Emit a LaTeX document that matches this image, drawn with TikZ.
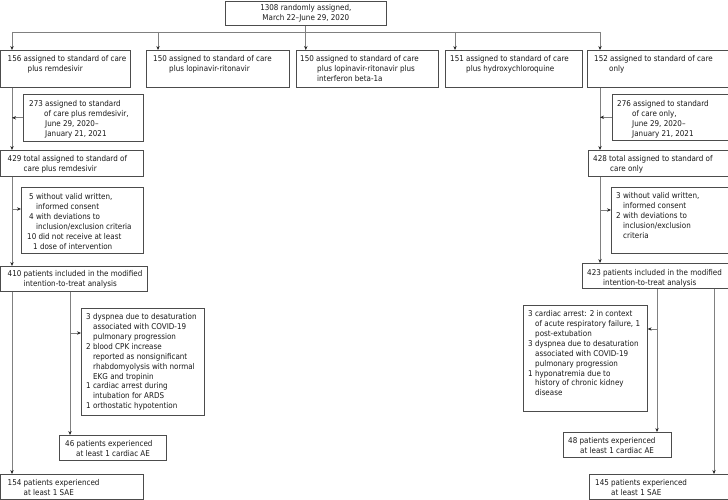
\documentclass[tikz,border=0pt]{standalone}
\usepackage{fontspec}
\setmainfont{DejaVu Sans}[FakeStretch=0.9]
\usetikzlibrary{arrows.meta,calc}
\tikzset{
  box/.style={draw=black!70, line width=0.6bp, anchor=north west, inner sep=0pt, fill=white},
  txt/.style={anchor=north west, inner sep=0pt, align=left, font=\fontsize{8}{10}\selectfont, text=black!90},
  ttl/.style={inner sep=0pt, align=center, font=\fontsize{8}{10}\selectfont, text=black!90},
  ln/.style={draw=black!50, line width=0.8bp},
  arr/.style={ln, -{Stealth[length=4bp,width=3.4bp,color=black!85]}}
}
\newcommand\bx[5]{\node[box, minimum width=#4bp, minimum height=#5bp] (#1) at (#2,#3) {};}
\newcommand\tx[4]{\node[txt] (#1-t) at ($(#1.north west)+(#2,#3)$) {#4};}
\newcommand\ind[1]{\hspace*{#1bp}}
\begin{document}
\begin{tikzpicture}[x=1bp,y=-1bp]
\useasboundingbox (0,0) rectangle (728,500);
% boxes
\bx{top}{225}{1}{161}{24}
\node[ttl] (top-t) at (top.center) {1308 randomly assigned,\\March 22–June 29, 2020};
\bx{b1}{0.5}{50}{129.5}{37}
\bx{b2}{146}{50}{143}{37}
\bx{b3}{296}{50}{142}{37}
\bx{b4}{445}{50}{137}{37}
\bx{b5}{587}{50}{140.5}{37}
\bx{r273}{23}{94}{120}{47}
\bx{t429}{0.5}{150}{142.5}{26}
\bx{exL}{21}{187}{122}{66}
\bx{p410}{0.5}{266}{146.5}{25}
\bx{aeL}{81}{308}{123}{107}
\bx{c46}{59}{435}{107}{25}
\bx{s154}{0.5}{474}{142.5}{25}
\bx{r276}{612}{94}{115.5}{46}
\bx{t428}{588}{150}{139.5}{26}
\bx{exR}{611}{187}{116.5}{66}
\bx{p423}{582}{263}{145.5}{25}
\bx{aeR}{523}{305}{124}{106}
\bx{c48}{563}{432}{108}{25}
\bx{s145}{589}{474}{138.5}{25}
% texts
\tx{b1}{7}{5}{156 assigned to standard of care\\\ind{20}plus remdesivir}
\tx{b2}{7}{5}{150 assigned to standard of care\\\ind{16}plus lopinavir-ritonavir}
\tx{b3}{4}{5}{150 assigned to standard of care\\\ind{17}plus lopinavir-ritonavir plus\\\ind{17}interferon beta-1a}
\tx{b4}{5}{5}{151 assigned to standard of care\\\ind{16}plus hydroxychloroquine}
\tx{b5}{7}{5}{152 assigned to standard of care\\\ind{15}only}
\tx{r273}{6}{6}{273 assigned to standard\\\ind{15}of care plus remdesivir,\\\ind{16}June 29, 2020–\\\ind{16}January 21, 2021}
\tx{t429}{7}{5}{429 total assigned to standard of\\\ind{16}care plus remdesivir}
\tx{exL}{6}{6}{\ind{2}5 without valid written,\\\ind{9}informed consent\\\ind{2}4 with deviations to\\\ind{9}inclusion/exclusion criteria\\10 did not receive at least\\\ind{6}1 dose of intervention}
\tx{p410}{7}{4}{410 patients included in the modified\\\ind{16}intention-to-treat analysis}
\tx{aeL}{5}{5}{3 dyspnea due to desaturation\\\ind{7}associated with COVID-19\\\ind{7}pulmonary progression\\2 blood CPK increase\\\ind{7}reported as nonsignificant\\\ind{7}rhabdomyolysis with normal\\\ind{7}EKG and tropinin\\1 cardiac arrest during\\\ind{7}intubation for ARDS\\1 orthostatic hypotention}
\tx{c46}{6}{5}{46 patients experienced\\\ind{11}at least 1 cardiac AE}
\tx{s154}{7}{5}{154 patients experienced\\\ind{16}at least 1 SAE}
\tx{r276}{5}{6}{276 assigned to standard\\\ind{15}of care only,\\\ind{15}June 29, 2020–\\\ind{15}January 21, 2021}
\tx{t428}{5}{5}{428 total assigned to standard of\\\ind{17}care only}
\tx{exR}{5}{5}{3 without valid written,\\\ind{7}informed consent\\2 with deviations to\\\ind{7}inclusion/exclusion\\\ind{7}criteria}
\tx{p423}{5}{6}{423 patients included in the modified\\\ind{16}intention-to-treat analysis}
\tx{aeR}{5}{5}{3 cardiac arrest: 2 in context\\\ind{7}of acute respiratory failure, 1\\\ind{7}post-extubation\\3 dyspnea due to desaturation\\\ind{7}associated with COVID-19\\\ind{7}pulmonary progression\\1 hyponatremia due to\\\ind{7}history of chronic kidney\\\ind{7}disease}
\tx{c48}{5}{5}{48 patients experienced\\\ind{12}at least 1 cardiac AE}
\tx{s145}{6}{5}{145 patients experienced\\\ind{16}at least 1 SAE}
% connectors
\coordinate (h1) at (12,32);
\coordinate (h2) at (158,32);
\coordinate (h4) at (455,32);
\coordinate (h5) at (600,32);
\draw[ln] (h1) -- (h5);
\draw[arr] (top.south) -- (top.south |- b3.north);
\draw[arr] (h1) -- (h1 |- b1.north);
\draw[arr] (h2) -- (h2 |- b2.north);
\draw[arr] (h4) -- (h4 |- b4.north);
\draw[arr] (h5) -- (h5 |- b5.north);
% left column
\coordinate (xL) at (12,0);
\coordinate (xL2) at (70,0);
\draw[arr] (xL |- b1.south) -- (xL |- t429.north);
\draw[arr] (r273.west) -- (r273.west -| xL);
\draw[arr] (xL |- t429.south) -- (xL |- p410.north);
\coordinate (aL) at (12,209);
\draw[arr] (aL) -- (aL -| exL.west);
\draw[arr] (xL |- p410.south) -- (xL |- s154.north);
\draw[arr] (xL2 |- p410.south) -- (xL2 |- c46.north);
\coordinate (aL2) at (70,333);
\draw[arr] (aL2) -- (aL2 -| aeL.west);
% right column
\coordinate (xR) at (600,0);
\coordinate (xR2) at (657,0);
\coordinate (xR3) at (714,0);
\draw[arr] (xR |- b5.south) -- (xR |- t428.north);
\draw[arr] (r276.west) -- (r276.west -| xR);
\draw[arr] (xR |- t428.south) -- (xR |- p423.north);
\coordinate (aR) at (600,210);
\draw[arr] (aR) -- (aR -| exR.west);
\draw[arr] (xR2 |- p423.south) -- (xR2 |- c48.north);
\coordinate (aR2) at (657,329);
\draw[arr] (aR2) -- (aR2 -| aeR.east);
\draw[arr] (xR3 |- p423.south) -- (xR3 |- s145.north);
\end{tikzpicture}
\end{document}
